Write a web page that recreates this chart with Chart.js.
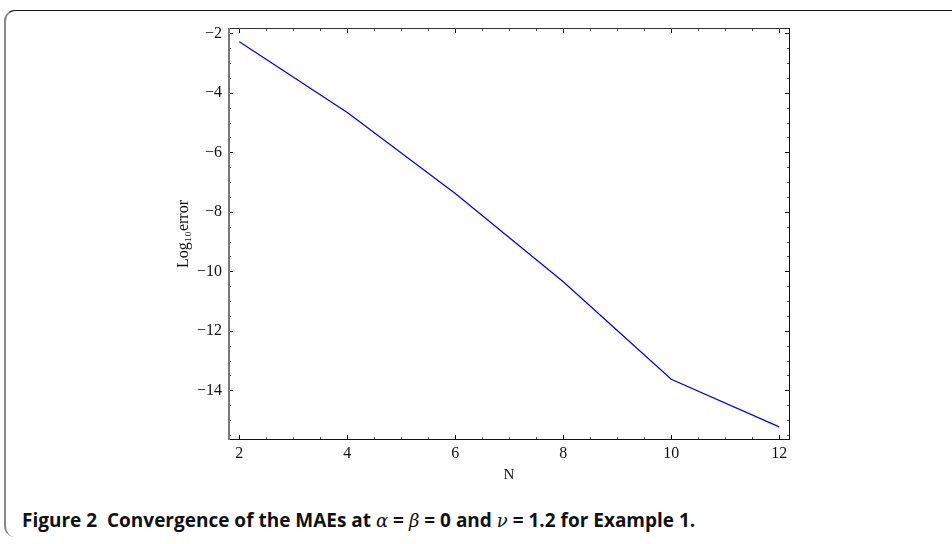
<!DOCTYPE html>
<html>
<head>
<meta charset="utf-8">
<script src="https://cdn.jsdelivr.net/npm/chart.js@4.4.1/dist/chart.umd.min.js"></script>
<style>
  html, body { margin: 0; padding: 0; background: #fff; }
  body { width: 952px; height: 544px; position: relative; overflow: hidden; }
  #frame {
    position: absolute; left: 4px; top: 10px; width: 960px; height: 526px;
    border-top: 1px solid #111; border-left: 2px solid #888;
    border-top-left-radius: 11px; border-bottom-left-radius: 11px;
  }
  #c { position: absolute; left: 0; top: 0; }
  #caption {
    position: absolute; left: 22px; top: 507px; white-space: nowrap; line-height: 26px;
    font-family: "Open Sans", sans-serif; font-weight: bold; font-size: 19px; color: #111;
  }
  #caption i { font-family: "DejaVu Serif", serif; font-weight: normal; font-size: 18px; }
</style>
</head>
<body>
<div id="frame"></div>
<canvas id="c" width="952" height="500"></canvas>
<div id="caption">Figure 2&nbsp; Convergence of the MAEs at <i>α</i> = <i>β</i> = 0 and <i>ν</i> = 1.2 for Example 1.</div>
<script>
// values
var nValues = [2, 4, 6, 8, 10, 12];
var logErrors = [-2.28, -4.66, -7.38, -10.35, -13.63, -15.23];
var xTicks = [2, 4, 6, 8, 10, 12];
var yTicks = [-2, -4, -6, -8, -10, -12, -14];
var xLabel = 'N';
var yLabel = 'Log\u2081\u2080error';

function minus(v) {
    return String(v).replace('-', '\u2212');
}

// Mathematica style frame: ticks pointing in, on all four sides
var frameTicks = {
    id: 'frameTicks',
    afterDraw: function (chart) {
        var ctx = chart.ctx;
        var a = chart.chartArea;
        var xs = chart.scales.x, ys = chart.scales.y;
        ctx.save();
        ctx.lineWidth = 1;
        function tick(x1, y1, x2, y2, col) {
            ctx.strokeStyle = col;
            ctx.beginPath();
            ctx.moveTo(x1, y1);
            ctx.lineTo(x2, y2);
            ctx.stroke();
        }
        var v, i, p, len, col;
        for (i = 0; i < xTicks.length; i++) {
            for (var k = 0; k < 4; k++) {
                v = xTicks[i] + k * 0.5;
                if (v > xs.max) break;
                p = Math.round(xs.getPixelForValue(v)) + 0.5;
                len = k == 0 ? 5 : 3;
                col = k == 0 ? '#000' : '#555';
                tick(p, a.bottom, p, a.bottom - len, col);
                tick(p, a.top, p, a.top + len, col);
            }
        }
        for (i = 0; i < yTicks.length; i++) {
            for (var k = 0; k < 4; k++) {
                v = yTicks[i] - k * 0.5;
                if (v < ys.min) break;
                p = Math.round(ys.getPixelForValue(v)) + 0.5;
                len = k == 0 ? 5 : 3;
                col = k == 0 ? '#000' : '#555';
                tick(a.left, p, a.left + len, p, col);
                tick(a.right, p, a.right - len, p, col);
            }
        }
        // frame
        ctx.lineWidth = 1;
        tick(a.left, a.top + 0.5, a.right, a.top + 0.5, '#333');
        tick(a.right - 0.5, a.top, a.right - 0.5, a.bottom, '#111');
        tick(a.left, a.bottom - 0.5, a.right, a.bottom - 0.5, '#111');
        ctx.lineWidth = 2;
        tick(a.left + 1, a.top, a.left + 1, a.bottom, '#777');
        ctx.restore();
    }
};

var ctx = document.getElementById('c').getContext('2d');
window.MyChart = new Chart(ctx, {
    type: 'line',
    data: {
        datasets: [{
            data: nValues.map(function (n, i) { return { x: n, y: logErrors[i] }; }),
            borderColor: 'rgb(0, 0, 255)',
            borderWidth: 1.3,
            pointRadius: 0,
            tension: 0,
            fill: false
        }]
    },
    options: {
        responsive: false,
        devicePixelRatio: 1,
        animation: false,
        layout: { padding: { left: 160, top: 28, right: 162, bottom: 0 } },
        plugins: { legend: { display: false }, tooltip: { enabled: false } },
        scales: {
            x: {
                type: 'linear',
                min: 1.79,
                max: 12.2,
                afterFit: function (s) { s.height = 60; },
                afterBuildTicks: function (s) {
                    s.ticks = xTicks.map(function (v) { return { value: v }; });
                },
                grid: { display: false, drawTicks: false },
                border: { display: false },
                ticks: {
                    padding: 4,
                    color: '#111',
                    font: { family: 'Liberation Serif', size: 16 },
                    callback: function (v) { return minus(v); }
                },
                title: {
                    display: true,
                    text: xLabel,
                    color: '#111',
                    padding: { top: 0, bottom: 16 },
                    font: { family: 'Liberation Serif', size: 15 }
                }
            },
            y: {
                type: 'linear',
                min: -15.67,
                max: -1.82,
                afterFit: function (s) { s.width = 68; },
                afterBuildTicks: function (s) {
                    s.ticks = yTicks.map(function (v) { return { value: v }; });
                },
                grid: { display: false, drawTicks: false },
                border: { display: false },
                ticks: {
                    padding: 6,
                    color: '#111',
                    font: { family: 'Liberation Serif', size: 16 },
                    callback: function (v) { return minus(v); }
                },
                title: {
                    display: true,
                    text: yLabel,
                    color: '#111',
                    padding: { top: 14, bottom: 0 },
                    font: { family: 'Liberation Serif', size: 16 }
                }
            }
        }
    },
    plugins: [frameTicks]
});
</script>
</body>
</html>
